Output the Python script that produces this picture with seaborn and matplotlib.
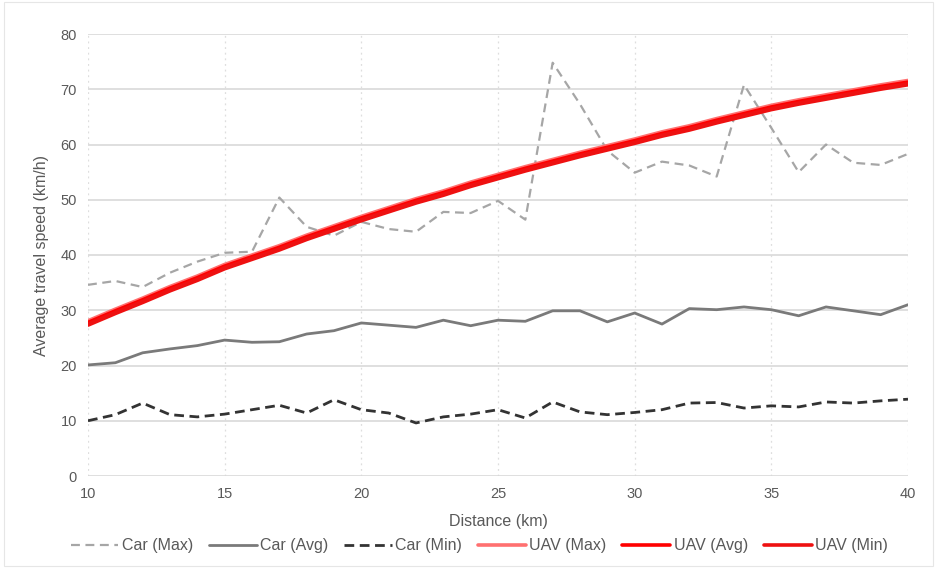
import matplotlib
matplotlib.use("Agg")
import matplotlib.pyplot as plt
import seaborn as sns
import pandas as pd

# Distance (km) and average travel speeds (km/h)
distance = list(range(10, 41))

car_max = [34.6, 35.3, 34.2, 36.8, 38.8, 40.4, 40.6, 50.4, 45.1, 43.5, 46.0,
           44.7, 44.2, 47.8, 47.6, 49.8, 46.4, 74.8, 67.3, 58.9, 54.9, 56.9,
           56.2, 54.2, 70.8, 63.0, 55.0, 60.0, 56.7, 56.3, 58.3]
car_avg = [20.1, 20.5, 22.3, 23.0, 23.6, 24.6, 24.2, 24.3, 25.7, 26.3, 27.7,
           27.3, 26.9, 28.2, 27.2, 28.2, 28.0, 29.9, 29.9, 27.9, 29.5, 27.5,
           30.3, 30.1, 30.6, 30.1, 29.0, 30.6, 29.9, 29.2, 31.0]
car_min = [10.0, 11.1, 13.2, 11.1, 10.7, 11.2, 12.0, 12.8, 11.4, 13.8, 12.0,
           11.4, 9.6, 10.7, 11.2, 12.0, 10.5, 13.4, 11.6, 11.1, 11.5, 12.0,
           13.2, 13.3, 12.3, 12.7, 12.5, 13.4, 13.2, 13.6, 13.9]
uav_max = [28.0, 30.1, 32.1, 34.2, 36.1, 38.2, 39.9, 41.6, 43.5, 45.2, 46.9,
           48.5, 50.1, 51.5, 53.1, 54.5, 55.9, 57.2, 58.5, 59.7, 60.9, 62.2,
           63.3, 64.6, 65.8, 67.0, 68.0, 68.9, 69.8, 70.7, 71.5]
uav_avg = [27.7, 29.8, 31.8, 33.9, 35.8, 37.9, 39.6, 41.3, 43.2, 44.9, 46.6,
           48.2, 49.8, 51.2, 52.8, 54.2, 55.6, 56.9, 58.2, 59.4, 60.6, 61.9,
           63.0, 64.3, 65.5, 66.7, 67.7, 68.6, 69.5, 70.4, 71.2]
uav_min = [27.4, 29.5, 31.5, 33.6, 35.5, 37.6, 39.3, 41.0, 42.9, 44.6, 46.3,
           47.9, 49.5, 50.9, 52.5, 53.9, 55.3, 56.6, 57.9, 59.1, 60.3, 61.6,
           62.7, 64.0, 65.2, 66.4, 67.4, 68.3, 69.2, 70.1, 70.9]

x_ticks = [10, 15, 20, 25, 30, 35, 40]
y_ticks = [0, 10, 20, 30, 40, 50, 60, 70, 80]

series = [
    ("Car (Max)", car_max, "#a6a6a6", (0, (4, 2.5)), 1.6),
    ("Car (Avg)", car_avg, "#7a7a7a", "-", 2.0),
    ("Car (Min)", car_min, "#333333", (0, (3.5, 2)), 2.0),
    ("UAV (Max)", uav_max, "#ff7070", "-", 3.3),
    ("UAV (Avg)", uav_avg, "#ff0000", "-", 3.3),
    ("UAV (Min)", uav_min, "#ee1111", "-", 3.3),
]

sns.set_theme(style="white")
plt.rcParams["font.family"] = ["Liberation Sans", "DejaVu Sans"]

fig = plt.figure(figsize=(9.37, 5.68), dpi=100)
ax = fig.add_axes([88 / 937, 1 - 476 / 568, 820 / 937, 442 / 568])

for name, values, color, ls, lw in series:
    df = pd.DataFrame({"distance": distance, "speed": values})
    sns.lineplot(data=df, x="distance", y="speed", ax=ax, color=color,
                 linestyle=ls, linewidth=lw, label=name)

ax.set_xlim(10, 40)
ax.set_ylim(0, 80)
ax.set_xticks(x_ticks)
ax.set_yticks(y_ticks)
ax.tick_params(axis="both", labelsize=10.5, labelcolor="#595959", length=0, pad=8)

ax.grid(axis="y", color="#d9d9d9", linewidth=1.2, linestyle="-")
ax.grid(axis="x", color="#dedede", linewidth=0.9, linestyle=(0, (1.5, 3)))
ax.set_axisbelow(True)
for s in ax.spines.values():
    s.set_visible(False)

ax.set_xlabel("Distance (km)", fontsize=11.5, color="#595959", labelpad=9)
ax.set_ylabel("Average travel speed (km/h)", fontsize=11.5, color="#595959", labelpad=8)

leg = ax.legend(loc="upper center", bbox_to_anchor=(0.477, -0.108), ncol=6,
                frameon=False, fontsize=11.5, handlelength=3.0,
                columnspacing=1.0, handletextpad=0.2)
for t in leg.get_texts():
    t.set_color("#595959")
for h in leg.get_lines()[3:]:
    h.set_linewidth(2.6)

fig.patches.append(plt.Rectangle((0.004, 0.004), 0.992, 0.992, transform=fig.transFigure,
                                 fill=False, edgecolor="#e6e6e6", linewidth=0.8))

fig.savefig("out.png", dpi=100, facecolor="white")
